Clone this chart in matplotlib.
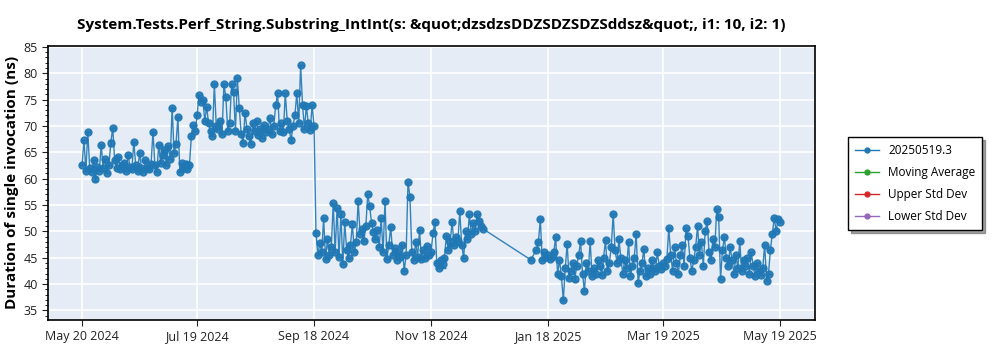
import matplotlib
matplotlib.use("Agg")
import matplotlib.pyplot as plt
import matplotlib.dates as mdates
from matplotlib.lines import Line2D
from matplotlib.ticker import MultipleLocator
import numpy as np
import pandas as pd

plt.rcParams["font.family"] = ["Open Sans", "DejaVu Sans"]

title = "System.Tests.Perf_String.Substring_IntInt(s: &quot;dzsdzsDDZSDZSDZSddsz&quot;, i1: 10, i2: 1)"
series_name = "20250519.3"

# daily measurements, one list per stretch of consecutive days
start_a = "2024-05-20"
values_a = [
    62.5, 67.3, 61.5, 68.8, 62.0, 61.2, 63.5, 60.0, 62.3, 61.5,
    66.4, 62.0, 63.8, 61.0, 62.5, 66.8, 69.7, 63.5, 62.0, 64.2,
    61.8, 62.5, 63.0, 61.5, 64.5, 62.2, 61.8, 67.0, 62.5, 61.5,
    64.9, 62.0, 61.2, 63.5, 62.0, 61.8, 62.8, 68.9, 62.5, 61.3,
    66.4, 63.0, 64.5, 65.5, 62.5, 66.2, 63.8, 73.5, 64.8, 66.5,
    71.7, 61.2, 63.0, 62.0, 62.8, 61.8, 62.5,
]
start_b = "2024-07-16"
values_b = [
    68.0, 70.2, 69.0, 72.0, 75.9, 74.5, 75.0, 71.0, 73.6, 70.5,
    69.0, 68.0, 77.9, 70.0, 69.5, 71.0, 68.5, 77.9, 75.5, 69.0,
    70.5, 77.9, 76.5, 69.0, 79.1, 73.4, 68.5, 66.7, 72.5, 69.5,
    68.0, 66.6, 70.5, 69.0, 71.0, 68.2, 69.5, 67.8, 70.2, 68.8,
    69.5, 71.5, 68.5, 70.0, 74.0, 76.2, 69.0, 70.5, 68.8, 76.2,
    71.0, 69.5, 67.3, 70.0, 72.0, 76.2, 70.5, 81.5, 73.9, 69.5,
    73.8, 70.5, 69.2, 74.0, 70.0,
]
start_c = "2024-09-19"
values_c = [
    49.7, 45.5, 47.8, 46.0, 52.5, 44.8, 48.5, 45.5, 47.0, 55.4,
    46.0, 54.5, 45.2, 53.3, 43.8, 51.7, 46.5, 45.0, 47.5, 51.4,
    46.0, 48.0, 55.8, 49.5, 50.5, 48.2, 51.0, 57.0, 54.8, 51.5,
    49.8, 48.5, 50.2, 47.0, 52.5, 46.0, 55.8, 44.8, 47.5, 50.9,
    45.5, 46.8, 44.5, 46.0, 45.2, 47.5, 42.4, 45.5, 59.4, 56.6,
    46.0, 44.5, 48.0, 45.2, 50.2, 44.8, 46.5, 45.0, 47.2, 45.5,
    46.0, 49.6, 51.7, 44.0, 43.1, 44.5, 43.8, 45.0, 49.2, 46.5,
    48.0, 51.8, 47.5, 49.0, 48.2, 53.8, 47.5, 45.0, 50.0, 48.5,
    53.2, 49.5, 51.5, 50.0, 53.3, 52.0, 51.0, 50.5,
]
start_d = "2025-01-09"
values_d = [44.6]
start_e = "2025-01-12"
values_e = [
    46.5, 48.0, 52.3, 44.5, 46.0, 45.2, 45.5, 44.8, 45.2, 46.0,
    48.9, 42.0, 44.5, 41.5, 36.9, 43.0, 47.6, 41.2, 42.5, 44.0,
    41.0, 43.5, 45.5, 48.1, 42.0, 38.6, 44.0, 42.5, 48.1, 41.5,
    43.0, 42.0, 44.5, 43.5, 41.8, 45.0, 48.3, 42.5, 44.0, 47.0,
    53.3, 46.5, 44.0, 48.5, 45.0, 42.0, 44.5, 43.0, 48.0, 41.5,
    43.5, 45.0, 49.5, 40.2, 42.5, 44.0, 46.6, 41.5, 43.0, 42.0,
    44.5, 43.0, 42.5, 46.0, 43.5, 42.8, 44.0, 43.5, 44.8, 50.6,
    45.5, 42.5, 47.0, 44.0, 42.0, 45.5, 47.5, 43.5, 50.6, 49.2,
    45.0, 42.5, 44.5, 47.0, 51.0, 45.5, 48.0, 43.5, 50.1, 52.0,
    46.0, 44.5, 48.5, 47.0, 54.2, 52.8, 41.0, 46.5, 48.9, 45.0,
    43.5, 47.0, 44.5, 42.0, 45.5, 43.0, 48.2, 42.5, 44.5, 43.5,
    45.0, 42.0, 46.0, 43.5, 41.5, 44.0, 42.5, 41.8, 43.0, 47.5,
    40.5, 42.0, 46.5, 49.5, 52.6, 50.0, 52.4, 51.8,
]

# the few standard deviations large enough to show
std_dev = {
    "2024-05-27": 0.4, "2024-06-04": 0.6, "2024-07-01": 0.5,
    "2024-09-06": 0.4, "2024-10-02": 0.5, "2024-11-24": 0.8,
    "2024-10-08": 0.6, "2024-11-28": 0.7, "2025-02-01": 0.5,
}

tick_dates = ["2024-05-20", "2024-07-19", "2024-09-18", "2024-11-18",
              "2025-01-18", "2025-03-19", "2025-05-19"]

segments = [(start_a, values_a), (start_b, values_b), (start_c, values_c),
            (start_d, values_d), (start_e, values_e)]
dates = pd.DatetimeIndex(np.concatenate(
    [pd.date_range(s, periods=len(v), freq="D").values for s, v in segments]))
values = np.concatenate([v for _, v in segments])
errs = np.array([std_dev.get(d.strftime("%Y-%m-%d"), 0.0) for d in dates])

blue = "#1f77b4"
fig = plt.figure(figsize=(10, 3.5), dpi=100)
ax = fig.add_axes([0.048, 0.086, 0.767, 0.783])
ax.set_facecolor("#e5ecf6")
ax.grid(True, color="white", linewidth=1.2)
ax.set_axisbelow(True)

ax.errorbar(dates, values, yerr=errs, color=blue, ecolor=blue, lw=1,
            marker="o", markersize=5, capsize=2.5, elinewidth=1, alpha=0.9)

ax.set_ylim(33.2, 85.2)
ax.yaxis.set_major_locator(MultipleLocator(5))
ax.yaxis.set_minor_locator(MultipleLocator(1))
ax.set_xlim(pd.Timestamp("2024-05-02 06:00"), pd.Timestamp("2025-06-06 06:00"))
ax.set_xticks(pd.to_datetime(tick_dates))
ax.xaxis.set_major_formatter(mdates.DateFormatter("%b %d %Y"))
ax.tick_params(labelsize=9, colors="#222222", length=4)
ax.tick_params(which="minor", length=2)
for sp in ax.spines.values():
    sp.set_color("black")
    sp.set_linewidth(1.2)

ax.set_title(title, fontsize=11, fontweight="bold", pad=12)
ax.set_ylabel("Duration of single invocation (ns)", fontsize=11, fontweight="bold", labelpad=3)

handles = [Line2D([], [], color=c, marker="o", markersize=3.5, lw=1)
           for c in [blue, "#2ca02c", "#d62728", "#9467bd"]]
labels = [series_name, "Moving Average", "Upper Std Dev", "Lower Std Dev"]
leg = fig.legend(handles, labels, loc="upper left", bbox_to_anchor=(0.848, 1 - 137 / 350),
                 fontsize=8.5, fancybox=False, shadow=True, framealpha=1,
                 edgecolor="black", borderaxespad=0, handlelength=2,
                 labelspacing=0.75, borderpad=0.6)
leg.get_frame().set_linewidth(1)

fig.savefig("out.png", dpi=100)
